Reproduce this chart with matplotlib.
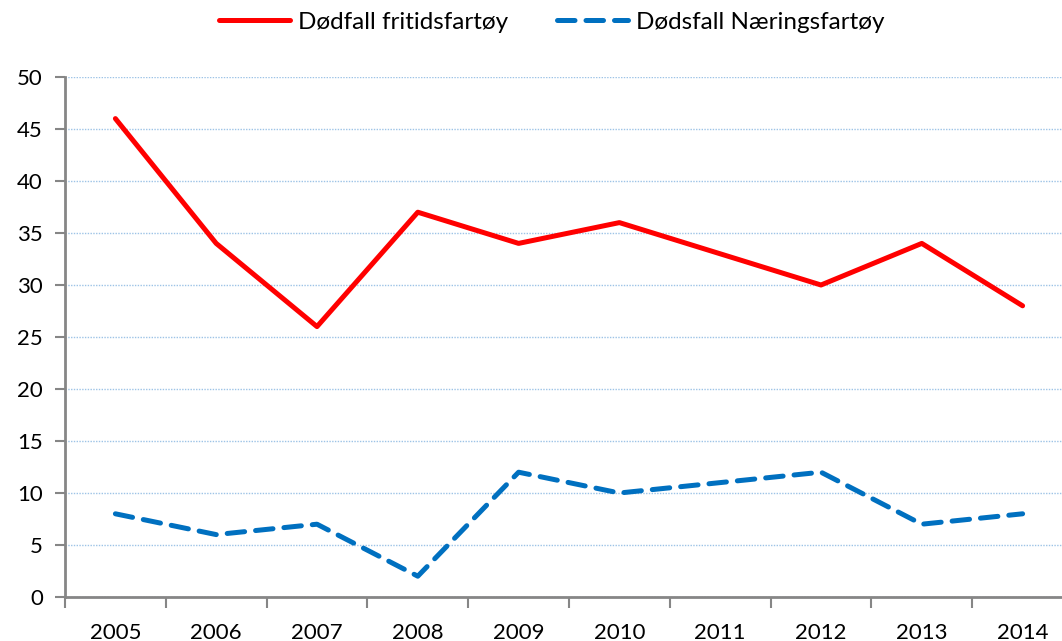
import matplotlib
matplotlib.use("Agg")
import matplotlib.pyplot as plt
import numpy as np

years = ["2005", "2006", "2007", "2008", "2009", "2010", "2011", "2012", "2013", "2014"]
fritid = [46, 34, 26, 37, 34, 36, 33, 30, 34, 28]
naering = [8, 6, 7, 2, 12, 10, 11, 12, 7, 8]

plt.rcParams['font.family'] = ['Lato', 'DejaVu Sans']

W, H = 1062, 641
fig = plt.figure(figsize=(W/100, H/100), dpi=100)
left, right, bottom, top = 65, 1073, 597, 77
ax = fig.add_axes([left/W, (H-bottom)/H, (right-left)/W, (bottom-top)/H])

x = np.arange(len(years))
ax.plot(x, fritid, color='#FF0000', lw=3.6, solid_joinstyle='round', solid_capstyle='round',
        label='Dødfall fritidsfartøy', zorder=3)
ax.plot(x, naering, color='#0070C0', lw=3.6, linestyle=(0, (3.5, 2.2)), dash_capstyle='round',
        label='Dødsfall Næringsfartøy', zorder=3)

ax.set_xlim(-0.5, len(years) - 0.5)
ax.set_ylim(0, 50)
ax.set_yticks(np.arange(0, 51, 5))
ax.set_xticks(x)
ax.set_xticklabels(years)
ax.set_xticks(np.arange(-0.5, len(years)), minor=True)
ax.tick_params(axis='x', which='major', length=0, pad=19, labelsize=16, colors='black')
ax.tick_params(axis='x', which='minor', length=8, width=1.5, color='#868686', direction='out')
ax.tick_params(axis='y', length=7, width=1.5, color='#868686', pad=9, labelsize=16)

ax.yaxis.grid(True, color='#9DC3E6', linestyle=(0, (1, 1)), lw=1)
ax.set_axisbelow(True)
for s in ['top', 'right']:
    ax.spines[s].set_visible(False)
for s in ['left', 'bottom']:
    ax.spines[s].set_color('#868686')
    ax.spines[s].set_linewidth(2)

fig.legend(loc='center', bbox_to_anchor=(552/W, 1 - 22/H), ncol=2, frameon=False,
           fontsize=17.5, handlelength=2.9, columnspacing=2.0, handletextpad=0.35)

fig.savefig('out.png', dpi=100)
